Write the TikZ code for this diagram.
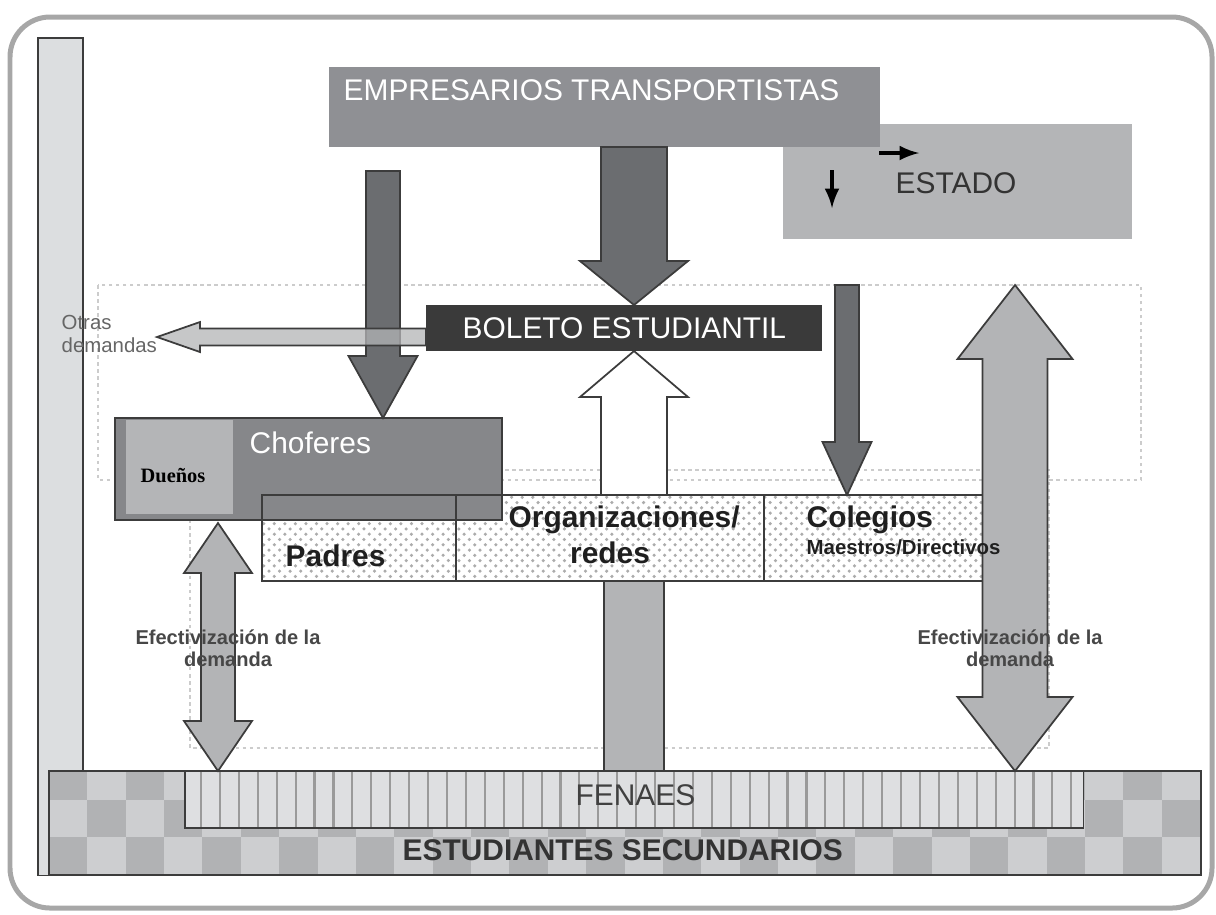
\documentclass[tikz,border=0pt]{standalone}
\usepackage{fontspec}
\setmainfont{Liberation Sans}
\newfontfamily\serifbold{Liberation Serif}
\usetikzlibrary{calc, patterns, arrows, positioning}

\definecolor{framegray}{HTML}{A7A7A7}
\definecolor{empgray}{HTML}{8F9094}
\definecolor{estgray}{HTML}{B4B5B7}
\definecolor{bargray}{HTML}{DCDEE0}
\definecolor{darkarr}{HTML}{6B6D70}
\definecolor{lightarr}{HTML}{B3B4B6}
\definecolor{boletogray}{HTML}{3A3A3A}
\definecolor{chofgray}{HTML}{86878A}
\definecolor{chkdark}{HTML}{B1B2B4}
\definecolor{chklight}{HTML}{CDCED0}
\definecolor{fengray}{HTML}{DEDFE1}
\definecolor{stripegray}{HTML}{9A9A9A}
\definecolor{edgegray}{HTML}{3C3C3C}
\definecolor{txtgray}{HTML}{333333}

\tikzstyle{box} = [rectangle,
anchor=north west,
inner sep=0pt,
outer sep=0pt,
draw=edgegray,
line width=0.5pt]
\tikzstyle{rowbox} = [box,
minimum height=0.86cm,
fill=gray!22,
pattern=crosshatch dots,
pattern color=gray!65]
\tikzstyle{frame} = [draw=framegray, line width=1.42pt, rounded corners=0.4cm]
\tikzstyle{zone} = [draw=gray!40, dash pattern=on 1pt off 1pt, line width=0.4pt]
\tikzstyle{darkarrow} = [draw=edgegray, line width=0.5pt, fill=darkarr]
\tikzstyle{lightarrow} = [draw=edgegray, line width=0.5pt, fill=lightarr]
\tikzstyle{whitearrow} = [draw=edgegray, line width=0.5pt, fill=white]
\tikzstyle{arrow} = [line width=0.9pt, ->, >=latex]
\tikzstyle{txt} = [inner sep=0pt, anchor=base west]
\tikzstyle{bigtxt} = [txt, font=\fontsize{8.5}{10.2}\selectfont]
\tikzstyle{boldtxt} = [txt, font=\bfseries\fontsize{8.5}{10.2}\selectfont, text=black!88]
\tikzstyle{smalltxt} = [txt, font=\bfseries\fontsize{5.7}{6.5}\selectfont, text=black!72]

% vertical block arrow: style, from, to, shaft half width, head half width, head length
\newcommand{\vblock}[6]{%
\draw[#1] ($(#2)+(-#4,0)$) -- ($(#2|-#3)+(-#4,#6)$) -- ($(#2|-#3)+(-#5,#6)$) -- (#2|-#3)
 -- ($(#2|-#3)+(#5,#6)$) -- ($(#2|-#3)+(#4,#6)$) -- ($(#2)+(#4,0)$) -- cycle;}
% vertical double block arrow: style, top, bottom, shaft half width, head half width, head length
\newcommand{\vdouble}[6]{%
\draw[#1] (#2) -- ($(#2)+(#5,#6)$) -- ($(#2)+(#4,#6)$) -- ($(#2|-#3)+(#4,-#6)$) -- ($(#2|-#3)+(#5,-#6)$)
 -- (#2|-#3) -- ($(#2|-#3)+(-#5,-#6)$) -- ($(#2|-#3)+(-#4,-#6)$) -- ($(#2)+(-#4,#6)$) -- ($(#2)+(-#5,#6)$) -- cycle;}

\begin{document}
\begin{tikzpicture}[x=0.01cm, y=-0.01cm]
\useasboundingbox (0,0) rectangle (1216,914);

% Frame and zones
\draw[frame] (10,17) rectangle (1212,908);
\node (bar) [box, fill=bargray, minimum width=0.45cm, minimum height=8.37cm] at (38,38) {};
\draw[zone] (98,285) rectangle (1141,480);
\draw[zone] (190,470) rectangle (1049,748);

% Actors
\node (estado) [box, draw=none, fill=estgray, minimum width=3.49cm, minimum height=1.15cm] at (783,124) {};
\node (empresa) [box, draw=none, fill=empgray, minimum width=5.51cm, minimum height=0.80cm] at (329,67) {};
\node (emptxt) [bigtxt, text=white] at (343,100) {EMPRESARIOS TRANSPORTISTAS};
\node (esttxt) [bigtxt, text=txtgray] at (895,193) {ESTADO};
\coordinate (estA) at (879,153);
\coordinate (estB) at (919,153);
\coordinate (estC) at (832,170);
\coordinate (estD) at (832,208);
\draw [arrow] (estA) -- (estB);
\draw [arrow] (estC) -- (estD);

% Row of actors
\node (padres) [rowbox, minimum width=1.94cm] at (262,495) {};
\node (organiz) [rowbox, minimum width=3.08cm] at (456,495) {};
\node (colegios) [rowbox, minimum width=2.51cm] at (764,495) {};

% Choferes, over the row
\node (chofer) [box, fill=chofgray, minimum width=3.87cm, minimum height=1.02cm] at (115,418) {};
\fill[estgray] (126,420) rectangle (233,514);
\draw[edgegray, line width=0.5pt] (padres.north west) rectangle (padres.south east);
\draw[edgegray, line width=0.5pt] (organiz.north west) rectangle (organiz.south east);
\node (chofertxt) [bigtxt, text=white] at (249,453) {Choferes};
\node (duenos) [txt, font=\serifbold\bfseries\fontsize{5.8}{7}\selectfont, text=black] at (140,482) {Dueños};
\coordinate (chofsrc) at (383,171);
\vblock{darkarrow}{chofsrc}{chofer.north}{17}{34.5}{-62}

% Boleto estudiantil and otras demandas
\node (boleto) [box, draw=none, fill=boletogray, minimum width=3.96cm, minimum height=0.46cm] at (426,305) {};
\node (boltxt) [bigtxt, text=white] at (462,338) {BOLETO ESTUDIANTIL};
\coordinate (otrastip) at (157,337);
\draw[lightarrow, fill opacity=0.75] (otrastip) -- ($(otrastip)+(43,-15)$) -- ($(otrastip)+(43,-8.5)$)
  -- ($(boleto.west|-otrastip)+(0,-8.5)$) -- ($(boleto.west|-otrastip)+(0,8.5)$)
  -- ($(otrastip)+(43,8.5)$) -- ($(otrastip)+(43,15)$) -- cycle;
\node (otras) [txt, font=\fontsize{5.8}{6.3}\selectfont, text=black!60] at (61,329) {Otras};
\node (demandas) [txt, font=\fontsize{5.8}{6.3}\selectfont, text=black!60] at (61,352) {demandas};

% Empresarios to boleto, estado to colegios
\coordinate (midsrc) at (634,147);
\vblock{darkarrow}{midsrc}{boleto.north}{33}{54}{-44}
\coordinate (colsrc) at (847,285);
\vblock{darkarrow}{colsrc}{colegios.north}{12}{24.5}{-53}

% Organizaciones to boleto
\coordinate (orgsrc) at (634,495);
\vblock{whitearrow}{orgsrc}{boleto.south}{33}{54}{46}

% Estudiantes secundarios
\node (estud) [box, fill=chklight, minimum width=11.51cm, minimum height=1.04cm] at (49,771) {};
\foreach \ya/\yb [count=\j] in {771/800, 800/837, 837/875}
  \foreach \i in {0,...,29}
  {
    \pgfmathparse{int(mod(\i+\j,2))}
    \ifnum\pgfmathresult=1
      \fill[chkdark] (49+38.37*\i,\ya) rectangle (49+38.37*\i+38.37,\yb);
    \fi
  }
\draw[edgegray, line width=0.5pt] (estud.north west) rectangle (estud.south east);
\node (fenaes) [box, fill=fengray, minimum width=8.98cm, minimum height=0.57cm] at (185,771) {};
\foreach \i in {0,...,46}
  \draw[stripegray, line width=0.6pt] (201+18.92*\i,772) -- (201+18.92*\i,827);
\draw[edgegray, line width=0.5pt] (fenaes.north west) rectangle (fenaes.south east);
\node (fentxt) [bigtxt, text=black!75] at (575,805) {FENAES};
\node (estudtxt) [boldtxt, text=txtgray] at (402,860) {ESTUDIANTES SECUNDARIOS};

% Organizaciones shaft from FENAES
\coordinate (fensrc) at (634,771);
\draw[lightarrow] ($(fensrc)+(-30,0)$) rectangle ($(fensrc|-organiz.south)+(30,0)$);

% Efectivizacion de la demanda
\coordinate (ltop) at (218,523);
\coordinate (lbot) at (218,771);
\vdouble{lightarrow}{ltop}{lbot}{17}{34}{50}
\coordinate (rtop) at (1015,285);
\coordinate (rbot) at (1015,771);
\vdouble{lightarrow}{rtop}{rbot}{32.5}{57.5}{74}

% Row labels
\node (padtxt) [boldtxt] at (285,566) {Padres};
\node (orgtxt) [boldtxt] at (508,527) {Organizaciones/};
\node (redtxt) [boldtxt, anchor=base] at (610,563) {redes};
\node (coltxt) [boldtxt] at (806,527) {Colegios};
\node (maetxt) [txt, font=\bfseries\fontsize{5.8}{7}\selectfont, text=black!88] at (806,554) {Maestros/Directivos};

\node (efl1) [smalltxt, anchor=base] at (228,644) {Efectivización de la};
\node (efl2) [smalltxt, anchor=base] at (228,666) {demanda};
\node (efr1) [smalltxt, anchor=base] at (1010,644) {Efectivización de la};
\node (efr2) [smalltxt, anchor=base] at (1010,666) {demanda};

\end{tikzpicture}
\end{document}
